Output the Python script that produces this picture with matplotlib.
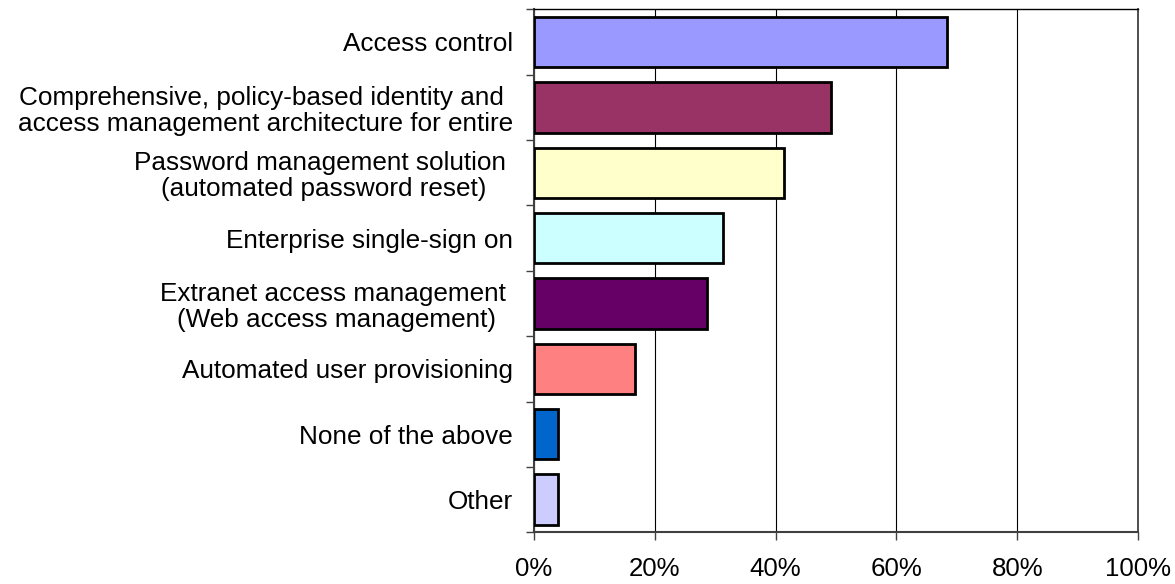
import numpy as np
import matplotlib.pyplot as plt
from matplotlib.ticker import FixedLocator, PercentFormatter

plt.rcParams["font.family"] = ["Liberation Sans", "DejaVu Sans"]

## data
categories = [
	"Access control",
	"Comprehensive, policy-based identity and \naccess management architecture for entire",
	"Password management solution \n(automated password reset)",
	"Enterprise single-sign on",
	"Extranet access management \n(Web access management)",
	"Automated user provisioning",
	"None of the above",
	"Other",
	]
shares = [68.3, 49.2, 41.4, 31.3, 28.7, 16.7, 4.1, 4.1]
bar_colors = ["#9999FF", "#993366", "#FFFFCC", "#CCFFFF", "#660066", "#FF8080", "#0066CC", "#CCCCFF"]
x_ticks = [0, 20, 40, 60, 80, 100]

## plot
fig = plt.figure(
	figsize=(11.75, 5.84),
	dpi=100)
ax = fig.add_axes([0.4542, 0.0885, 0.5146, 0.8956])
pos = np.arange(len(categories))
ax.barh(
	pos,
	shares,
	height=0.77,
	color=bar_colors,
	edgecolor="black",
	linewidth=2.0,
	zorder=3)
ax.set_xlim(0, 100)
ax.set_ylim(len(categories) - 0.5, -0.5)

## x axis
ax.set_xticks(x_ticks)
ax.xaxis.set_major_formatter(PercentFormatter(decimals=0))
ax.tick_params(
	axis="x",
	direction="out",
	length=6,
	width=1,
	color="#404040",
	pad=12,
	labelsize=18.6)
ax.grid(
	axis="x",
	color="black",
	linewidth=0.8,
	zorder=0)

## y axis: labels centred on bars, marks on the boundaries
ax.set_yticks(pos)
ax.set_yticklabels(categories)
ax.yaxis.set_minor_locator(FixedLocator(np.arange(-0.5, len(categories), 1.0)))
ax.tick_params(
	axis="y",
	which="major",
	length=0,
	pad=15,
	labelsize=18.8)
ax.tick_params(
	axis="y",
	which="minor",
	direction="out",
	length=6,
	width=1,
	color="#404040")
for label in ax.get_yticklabels():
	label.set_multialignment("center")
	label.set_linespacing(1.1)

## spines
for side in ["left", "bottom"]:
	ax.spines[side].set_color("#404040")
	ax.spines[side].set_linewidth(1.5)
ax.spines["top"].set_color("black")
ax.spines["top"].set_linewidth(1.0)
ax.spines["right"].set_color("#404040")
ax.spines["right"].set_linewidth(1.3)

fig.savefig("out.png", dpi=100)
plt.close()
